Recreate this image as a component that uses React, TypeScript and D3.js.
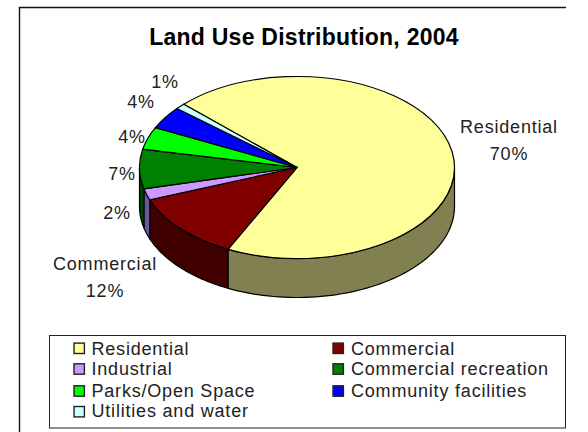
import React from "react";
import * as d3 from "d3";

const categories = ["Residential", "Commercial", "Industrial", "Commercial recreation", "Parks/Open Space", "Community facilities", "Utilities and water"];
const shares = [70, 12, 2, 7, 4, 4, 1];
const topColors = ["#ffff99", "#800000", "#cc99ff", "#008000", "#00ff00", "#0000ff", "#ccffff"];
const wallColors = ["#808050", "#400000", "#665a99", "#004000", "#008000", "#000080", "#668080"];
const sliceLabels = [
  { lines: ["Residential", "70%"], x: 509, y: 133 },
  { lines: ["Commercial", "12%"], x: 105, y: 270 },
  { lines: ["2%"], x: 117, y: 219 },
  { lines: ["7%"], x: 122, y: 180 },
  { lines: ["4%"], x: 132, y: 143 },
  { lines: ["4%"], x: 141, y: 108 },
  { lines: ["1%"], x: 165, y: 88 },
];

const FONT = "'Liberation Sans', Arial, sans-serif";
const cx = 297;
const cy = 167.5;
const rx = 157.5;
const ry = 91;
const depth = 39;
const startAngle = (314 / 180) * Math.PI;

const pie = d3.pie<number>().sort(null).startAngle(startAngle).endAngle(startAngle + 2 * Math.PI);
const slices = pie(shares);
const unitArc = d3.arc<d3.PieArcDatum<number>>().innerRadius(0).outerRadius(1);

// Point on the rim of the tilted disc, angle measured clockwise from the top.
const rim = (a: number, dy = 0): [number, number] => [cx + rx * Math.sin(a), cy - ry * Math.cos(a) + dy];

// Outline of the wall below one slice, limited to the front half of the disc.
function wallPath(a0: number, a1: number): string | null {
  const turn = 2 * Math.PI;
  const k = Math.floor(a0 / turn);
  const ranges = [
    [Math.PI / 2 + k * turn, (3 * Math.PI) / 2 + k * turn],
    [Math.PI / 2 + (k + 1) * turn, (3 * Math.PI) / 2 + (k + 1) * turn],
  ];
  for (const [lo, hi] of ranges) {
    const s = Math.max(a0, lo);
    const e = Math.min(a1, hi);
    if (e > s) {
      const angles = d3.range(0, 61).map((i) => s + ((e - s) * i) / 60);
      const pts = [...angles.map((a) => rim(a)), ...angles.slice().reverse().map((a) => rim(a, depth))];
      return d3.line()(pts) + "Z";
    }
  }
  return null;
}

const legendLeft = categories.map((c, i) => ({ c, i })).filter((d) => d.i % 2 === 0);
const legendRight = categories.map((c, i) => ({ c, i })).filter((d) => d.i % 2 === 1);
const swatchCenterY = [348.3, 369, 391, 411.7];
const legendBaseline = [354.5, 375, 397, 417];

export default function App() {
  return (
    <svg width={588} height={432} style={{ position: "fixed", left: 0, top: 0, background: "#fff" }}>
      <path d="M19.5,432V7.5H566" fill="none" stroke="#111" strokeWidth={1.4} />
      <text x={304} y={45} textAnchor="middle" fontFamily={FONT} fontWeight="bold" fontSize={23} letterSpacing={0.25} fill="#000">
        Land Use Distribution, 2004
      </text>
      {slices.map((s, i) => {
        const d = wallPath(s.startAngle, s.endAngle);
        return d ? <path key={i} d={d} fill={wallColors[i]} stroke="#000" strokeWidth={1.2} /> : null;
      })}
      <g transform={`translate(${cx},${cy}) scale(${rx},${ry})`}>
        {slices.map((s, i) => (
          <path key={i} d={unitArc(s) ?? ""} fill={topColors[i]} stroke="#000" strokeWidth={1.2} vectorEffect="non-scaling-stroke" />
        ))}
      </g>
      {sliceLabels.map((l, i) => (
        <text key={i} textAnchor="middle" fontFamily={FONT} fontSize={18} letterSpacing={0.8} fill="#222">
          {l.lines.map((t, j) => (
            <tspan key={j} x={l.x} y={l.y + j * 26.5}>{t}</tspan>
          ))}
        </text>
      ))}
      <rect x={49.5} y={335.5} width={516} height={92.5} fill="#fff" stroke="#222" />
      {[legendLeft, legendRight].map((col, c) =>
        col.map(({ c: name, i }, r) => (
          <g key={name}>
            <rect x={c ? 333 : 74} y={swatchCenterY[r] - 5.2} width={10.4} height={10.4} fill={topColors[i]} stroke="#222" strokeWidth={1.4} />
            <text x={c ? 351 : 91.5} y={legendBaseline[r]} fontFamily={FONT} fontSize={18} letterSpacing={0.8} fill="#222">{name}</text>
          </g>
        ))
      )}
    </svg>
  );
}
